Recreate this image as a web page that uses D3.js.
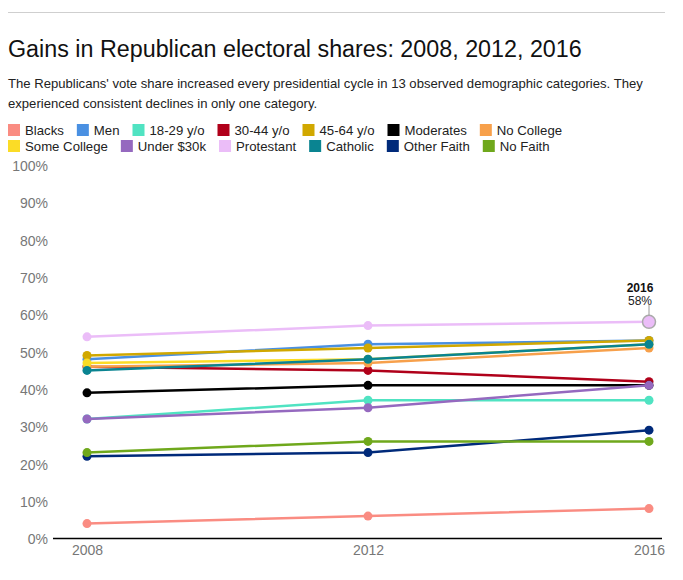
<!DOCTYPE html>
<html>
<head>
<meta charset="utf-8">
<script src="https://cdn.jsdelivr.net/npm/d3@7"></script>
<style>
  body { margin: 0; background: #fff; font-family: "Liberation Sans", Arial, sans-serif; }
  .tick text { fill: #777; font-size: 14px; }
</style>
</head>
<body>
<div id="chart"></div>
<script>
// data
var years = [2008, 2012, 2016];
var categories = ["Blacks", "Men", "18-29 y/o", "30-44 y/o", "45-64 y/o", "Moderates", "No College",
  "Some College", "Under $30k", "Protestant", "Catholic", "Other Faith", "No Faith"];
var colors = ["#fa8c82", "#4a90e2", "#50e3c2", "#b0001a", "#d1a800", "#000000", "#f7a04b",
  "#fbdc26", "#9569bf", "#ebbdf8", "#0a8491", "#002a7a", "#6fa81c"];

var blacks = [4, 6, 8];
var men = [48, 52, 53];
var age18to29 = [32, 37, 37];
var age30to44 = [46, 45, 42];
var age45to64 = [49, 51, 53];
var moderates = [39, 41, 41];
var noCollege = [46, 47, 51];
var someCollege = [47, 48, 52];
var under30k = [32, 35, 41];
var protestant = [54, 57, 58];
var catholic = [45, 48, 52];
var otherFaith = [22, 23, 29];
var noFaith = [23, 26, 26];

var yTicks = [0, 10, 20, 30, 40, 50, 60, 70, 80, 90, 100];

var seriesValues = [blacks, men, age18to29, age30to44, age45to64, moderates, noCollege,
  someCollege, under30k, protestant, catholic, otherFaith, noFaith];

var series = categories.map(function(name, i) {
  return {
    name: name,
    color: colors[i],
    values: years.map(function(y, j) { return { year: y, value: seriesValues[i][j] }; })
  };
});

var svgWidth = 683;
var svgHeight = 580;

var svg = d3.select("#chart")
  .append("svg")
  .attr("width", svgWidth)
  .attr("height", svgHeight);

// top rule
svg.append("line")
  .attr("x1", 8).attr("x2", 665)
  .attr("y1", 12.5).attr("y2", 12.5)
  .attr("stroke", "#cfcfcf");

// title + description
svg.append("text")
  .attr("x", 8)
  .attr("y", 57)
  .attr("font-size", "23.3px")
  .attr("fill", "#111")
  .text("Gains in Republican electoral shares: 2008, 2012, 2016");

var desc = svg.append("text")
  .attr("font-size", "13.1px")
  .attr("fill", "#222");
desc.append("tspan")
  .attr("x", 8).attr("y", 88)
  .text("The Republicans' vote share increased every presidential cycle in 13 observed demographic categories. They");
desc.append("tspan")
  .attr("x", 8).attr("y", 108)
  .text("experienced consistent declines in only one category.");

// legend, two rows
var legend = svg.append("g");
var lx = 8, ly = 124;
series.forEach(function(s, i) {
  if (i === 7) { lx = 8; ly = 140; }
  var item = legend.append("g").attr("transform", `translate(${lx}, ${ly})`);
  item.append("rect")
    .attr("width", 12).attr("height", 12)
    .attr("fill", s.color);
  var t = item.append("text")
    .attr("x", 17).attr("y", 11)
    .attr("font-size", "13.2px")
    .attr("fill", "#222")
    .text(s.name);
  lx += 17 + t.node().getComputedTextLength() + 13;
});

// scales
var xScale = d3.scalePoint()
  .domain(years)
  .range([87, 649]);

var yScale = d3.scaleLinear()
  .domain([0, 100])
  .range([538.5, 165]);

// y axis
var leftAxis = d3.axisLeft(yScale)
  .tickValues(yTicks)
  .tickSize(0)
  .tickPadding(0)
  .tickFormat(function(d) { return d + "%"; });

svg.append("g")
  .attr("transform", "translate(48, 1)")
  .call(leftAxis)
  .call(function(g) { g.select(".domain").remove(); });

// x axis
var bottomAxis = d3.axisBottom(xScale)
  .tickSize(0)
  .tickPadding(7);

svg.append("g")
  .attr("transform", `translate(0, ${yScale(0)})`)
  .call(bottomAxis)
  .call(function(g) { g.select(".domain").remove(); });

svg.append("line")
  .attr("x1", 53).attr("x2", 662)
  .attr("y1", yScale(0)).attr("y2", yScale(0))
  .attr("stroke", "#000")
  .attr("stroke-width", 1.5);

// lines
var line = d3.line()
  .x(d => xScale(d.year))
  .y(d => yScale(d.value));

var groups = svg.selectAll(".series")
  .data(series)
  .enter()
  .append("g")
  .attr("class", "series");

groups.append("path")
  .attr("d", d => line(d.values))
  .attr("fill", "none")
  .attr("stroke", d => d.color)
  .attr("stroke-width", 2.5);

groups.selectAll("circle")
  .data(d => d.values.map(v => ({ year: v.year, value: v.value, color: d.color })))
  .enter()
  .append("circle")
  .attr("cx", d => xScale(d.year))
  .attr("cy", d => yScale(d.value))
  .attr("r", 4.5)
  .attr("fill", d => d.color);

// highlighted point (Protestant 2016)
var hl = series[9].values[2];
var hx = xScale(hl.year), hy = yScale(hl.value);

svg.append("circle")
  .attr("cx", hx).attr("cy", hy)
  .attr("r", 6.5)
  .attr("fill", series[9].color)
  .attr("stroke", "#aaa")
  .attr("stroke-width", 1.5);

svg.append("line")
  .attr("x1", hx).attr("x2", hx)
  .attr("y1", hy - 6.5).attr("y2", hy - 17)
  .attr("stroke", "#999");

svg.append("text")
  .attr("x", hx - 9).attr("y", hy - 30)
  .attr("text-anchor", "middle")
  .attr("font-size", "12px")
  .attr("font-weight", "bold")
  .attr("fill", "#111")
  .text(hl.year);

svg.append("text")
  .attr("x", hx - 9).attr("y", hy - 17)
  .attr("text-anchor", "middle")
  .attr("font-size", "12px")
  .attr("fill", "#222")
  .text(hl.value + "%");
</script>
</body>
</html>
